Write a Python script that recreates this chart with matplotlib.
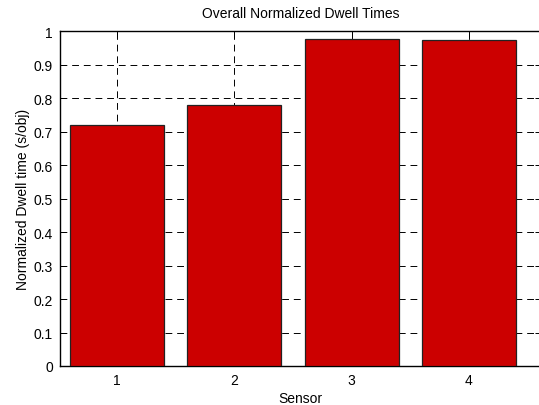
import matplotlib.pyplot as plt

sensors = [1, 2, 3, 4]
dwell_times = [0.72, 0.78, 0.977, 0.973]
y_ticks = [0, 0.1, 0.2, 0.3, 0.4, 0.5, 0.6, 0.7, 0.8, 0.9, 1]
y_tick_labels = ['0', '0.1', '0.2', '0.3', '0.4', '0.5', '0.6', '0.7', '0.8', '0.9', '1']

plt.rcParams['font.family'] = ['Liberation Sans', 'DejaVu Sans']

fig = plt.figure(figsize=(5.39, 4.06), dpi=100)
ax = fig.add_axes([60 / 539, 39 / 406, 481 / 539, 334.7 / 406])

ax.bar(sensors, dwell_times, width=0.8, color='#cc0000', edgecolor='#222222',
       linewidth=0.9, zorder=3)

ax.set_xlim(0.514, 4.614)
ax.set_ylim(0, 1)
ax.set_xticks(sensors)
ax.set_yticks(y_ticks)
ax.set_yticklabels(y_tick_labels)

ax.grid(True, color='black', linestyle=(0, (7, 5)), linewidth=0.7, zorder=0)
ax.set_axisbelow(True)
ax.tick_params(direction='in', top=True, right=True, labelsize=10, length=4,
               width=0.7, pad=5)
for s in ax.spines.values():
    s.set_linewidth(1.0)

ax.set_title('Overall Normalized Dwell Times', fontsize=10, pad=10)
ax.set_xlabel('Sensor', fontsize=10, labelpad=3)
ax.set_ylabel('Normalized Dwell time (s/obj)', fontsize=10, labelpad=3)

fig.savefig('out.png', dpi=100)
